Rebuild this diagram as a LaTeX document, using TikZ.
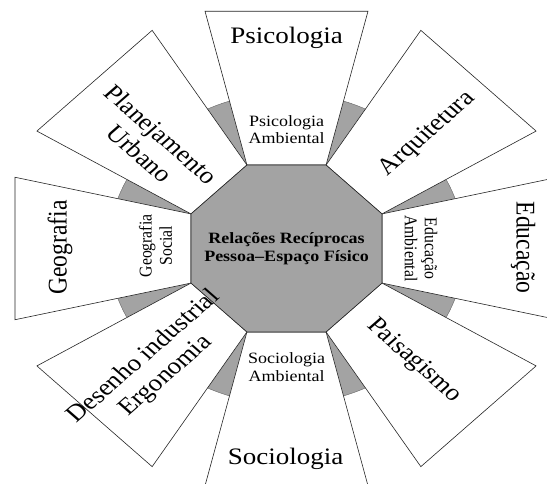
\documentclass[tikz,border=0pt]{standalone}
\usepackage{fontspec}
\setmainfont{Liberation Serif}
\definecolor{dotgray}{gray}{0.64}
\tikzset{
  trap/.style={draw=black!85, line width=0.6pt, fill=white},
  octo/.style={draw=black!85, line width=0.6pt, fill=dotgray},
  wedgefill/.style={fill=dotgray, draw=black!60, line width=0.4pt},
  lbl/.style={transform shape, align=center, inner sep=0pt},
  outerlbl/.style={lbl, font=\fontsize{27}{31}\selectfont},
  innerlbl/.style={lbl, font=\fontsize{18}{20}\selectfont},
  centerlbl/.style={lbl, font=\fontsize{18}{20.5}\selectfont\bfseries}
}
\begin{document}
\begin{tikzpicture}[x=1pt,y=1pt]
\useasboundingbox (0,0) rectangle (547,484);
\clip (0,0) rectangle (547,484);
\fill[white] (0,0) rectangle (547,484);
\begin{scope}[shift={(286.5,235.5)}, yscale=0.874]
  % gray wedges between the trapezoids
  \filldraw[wedgefill] (0,0) circle (178);
  % trapezoids
  \foreach \a in {0,45,...,315} {
    \draw[trap, rotate=\a] (95.5,-39.56) -- (271.5,-81.5) -- (271.5,81.5) -- (95.5,39.56) -- cycle;
  }
  % central octagon
  \draw[octo] (22.5:103.37) -- (67.5:103.37) -- (112.5:103.37) -- (157.5:103.37)
     -- (202.5:103.37) -- (247.5:103.37) -- (292.5:103.37) -- (337.5:103.37) -- cycle;
  \node[centerlbl] (ctr) at (0,-0.5) {Relações Recíprocas\\Pessoa–Espaço Físico};
  % outer labels
  \node[outerlbl] (psiO) at (0,241) {Psicologia};
  \node[outerlbl, rotate=90] (geoO) at (-226.5,1) {Geografia};
  \node[outerlbl, rotate=-90] (eduO) at (236.5,1) {Educação};
  \node[outerlbl] (socO) at (-1,-241) {Sociologia};
  \node[outerlbl, rotate=-45] (plaO) at (-136,119.6) {Planejamento\\Urbano};
  \node[outerlbl, rotate=45] (arqO) at (141,131) {Arquitetura};
  \node[outerlbl, rotate=-45] (paiO) at (127.5,-128.7) {Paisagismo};
  \node[outerlbl, rotate=45] (desO) at (-131.5,-135) {Desenho industrial\\Ergonomia};
  % inner labels
  \node[innerlbl] (psiI) at (0,136) {Psicologia\\Ambiental};
  \node[innerlbl, rotate=90] (geoI) at (-131,3) {Geografia\\Social};
  \node[innerlbl, rotate=-90] (eduI) at (134.5,0) {Educação\\Ambiental};
  \node[innerlbl] (socI) at (0,-136) {Sociologia\\Ambiental};
\end{scope}
\end{tikzpicture}
\end{document}
